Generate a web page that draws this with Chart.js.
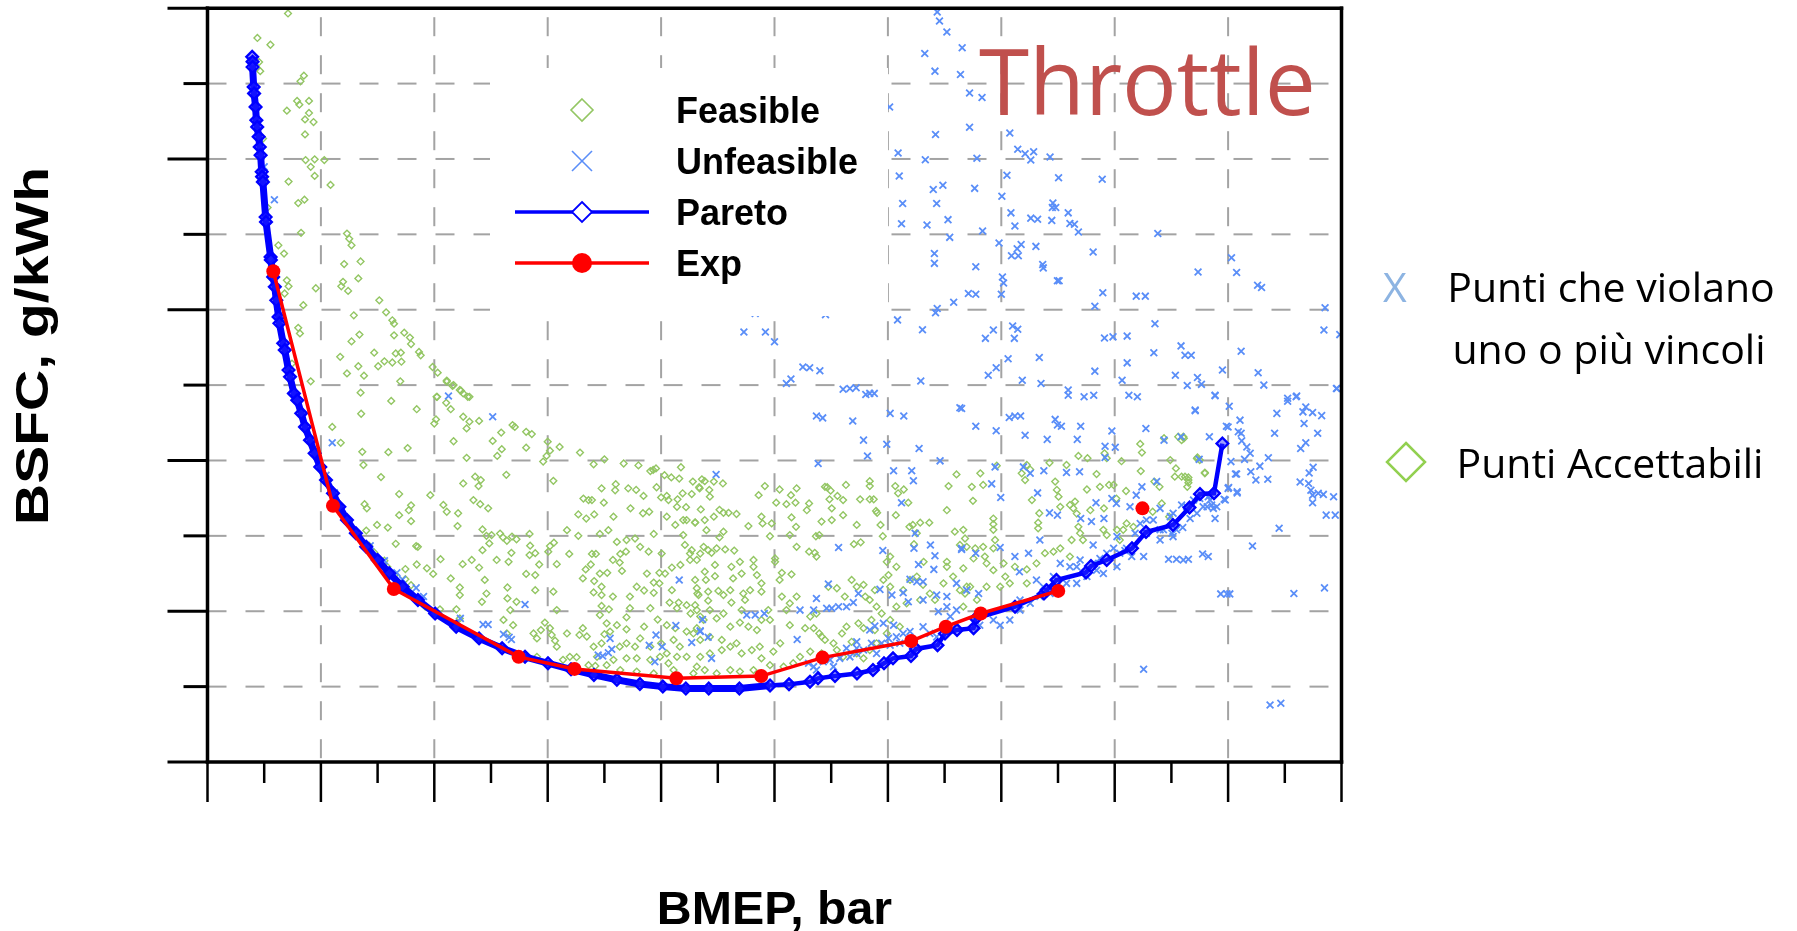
<!DOCTYPE html>
<html>
<head>
<meta charset="utf-8">
<title>Throttle - BSFC vs BMEP</title>
<script src="https://cdn.jsdelivr.net/npm/chart.js@4.4.1/dist/chart.umd.min.js"></script>
<style>
  html, body { margin: 0; padding: 0; background: #fff; }
  #wrap { position: relative; width: 1797px; height: 931px; }
</style>
</head>
<body>
<div id="wrap"><canvas id="chart" width="1797" height="931"></canvas></div>
<script>
// BMEP [bar], BSFC [g/kWh]
const feasiblePoints = [
  [1.42,398.6],[0.88,392.1],[1.11,390.3],[0.91,385.7],[0.93,383.3],[1.64,380.6],[1.70,382.1],[1.40,372.8],[1.58,375.4],[1.79,375.4],
  [1.62,374.4],[1.79,372.2],[1.72,370.5],[1.87,369.8],[1.72,366.5],[0.98,365.4],[1.73,359.7],[1.89,359.9],[2.06,359.7],[1.82,357.9],
  [1.89,355.5],[2.17,353.1],[1.43,354.0],[1.01,354.4],[1.60,348.3],[1.71,349.2],[1.06,347.1],[1.65,340.4],[2.46,340.2],[2.50,338.8],
  [2.54,337.1],[1.25,337.1],[1.35,334.9],[2.41,332.1],[2.70,332.8],[2.66,328.3],[2.39,327.4],[2.36,326.2],[2.48,325.0],[1.91,325.7],
  [1.40,327.8],[1.43,326.2],[1.36,324.3],[1.69,321.2],[3.03,322.5],[3.15,319.3],[2.58,318.5],[3.26,317.2],[3.29,316.3],[3.47,313.9],
  [3.29,313.2],[2.68,313.4],[3.57,312.6],[2.54,311.6],[1.60,315.2],[1.63,313.7],[3.59,310.9],[2.94,308.6],[2.34,307.5],[3.32,308.4],
  [3.41,308.6],[3.73,308.8],[3.76,307.9],[3.26,306.0],[3.12,306.3],[3.42,306.2],[3.01,305.0],[2.66,305.0],[2.46,303.1],[2.76,302.5],
  [3.97,304.8],[4.06,303.3],[3.40,301.0],[4.22,301.2],[4.32,299.8],[4.45,298.7],[4.59,296.9],[4.05,296.9],[2.70,298.0],[1.82,301.0],
  [1.49,305.7],
  [3.24,295.8],[3.69,293.6],[2.71,292.4],[2.20,288.9],[2.35,284.7],[2.73,282.3],[3.19,282.2],[3.53,283.3],[2.75,278.8],[3.06,275.6],
  [3.38,271.1],[2.77,268.4],[2.81,267.3],[3.59,268.1],[3.55,266.8],[3.38,265.5],[3.59,263.9],[2.99,262.9],[3.18,262.2],[2.80,261.4],
  [3.32,257.9],[3.68,257.3],[3.71,257.1],[2.94,255.6],[2.85,257.4],[3.12,253.4],[3.17,251.8],[3.49,251.2],[3.69,252.4],[3.30,249.6],
  [3.49,248.5],[3.59,246.9],
  [4.22,300.9],[4.34,300.0],[4.47,298.5],[4.51,297.8],[4.62,296.9],[4.04,296.9],[4.21,295.3],[4.29,293.6],[4.00,289.8],[4.03,290.9],
  [4.51,291.6],[4.62,290.3],[4.57,288.5],[4.79,290.5],[5.03,285.2],[5.18,287.4],[5.38,289.4],[5.42,288.9],[5.62,287.6],[5.72,287.0],
  [6.00,285.0],[5.62,283.4],[5.19,283.0],[5.11,281.2],[4.57,280.7],[4.34,285.1],[5.98,281.2],[5.92,279.7],[6.04,282.6],[6.21,283.6],
  [6.57,282.1],[6.81,279.0],[7.00,280.3],[7.34,279.2],[7.60,278.7],[7.81,277.2],[7.86,277.5],[7.91,277.9],[8.06,276.1],[8.18,275.5],
  [8.32,275.2],[8.35,278.2],[8.56,274.4],[8.68,272.6],
  [4.51,273.9],[4.72,275.7],[4.82,274.8],[4.78,273.2],[5.27,276.2],[3.93,270.8],[4.69,269.5],[4.81,268.4],[4.16,268.2],[4.22,266.4],
  [4.95,267.3],[4.42,266.0],[4.41,262.6],[4.85,261.7],[4.92,260.0],[5.01,260.2],[5.16,260.6],[5.21,259.6],[5.28,258.7],[5.37,259.8],
  [5.45,259.1],[5.68,260.5],[6.10,274.6],[6.63,269.9],[6.72,269.5],[6.78,269.5],[6.99,268.8],[6.54,265.7],[6.68,264.6],[6.82,265.7],
  [7.16,265.1],[6.95,272.6],[7.20,273.7],[7.19,272.1],[7.42,272.6],[7.56,272.2],[7.69,270.6],[7.92,272.9],[8.00,270.2],[8.10,270.6],
  [8.13,269.5],[8.29,269.7],[8.38,271.3],[8.54,271.1],[8.28,267.7],[8.44,267.6],[7.46,267.3],[7.79,266.4],[7.68,266.0],[8.10,265.1],
  [8.25,262.9],[8.39,264.2],[8.45,264.2],[8.60,263.6],[6.34,261.5],[6.54,260.0],[6.92,260.5],[7.07,261.5],[7.22,258.4],[7.39,258.9],
  [7.54,259.3],[7.63,257.1],[7.78,255.8],[7.87,260.5],[8.01,255.3],[8.39,260.2],[8.42,257.6],[8.51,255.3],[8.63,253.6],
  [4.11,253.8],[3.98,249.9],[3.87,251.4],[4.29,248.7],[4.50,252.5],[4.66,253.6],[4.79,251.6],[5.10,253.6],[4.85,256.2],[4.97,258.0],
  [5.31,253.1],[5.36,255.5],[5.68,254.9],[5.78,255.4],[5.85,252.4],[5.69,257.4],[6.01,255.8],[6.04,257.3],[6.11,258.2],[6.16,252.5],
  [6.38,255.2],[6.78,255.2],[6.85,255.2],[6.67,251.1],[6.76,252.4],[6.92,250.0],[7.05,250.2],[7.15,253.6],[7.28,255.2],[7.38,255.8],
  [7.27,252.9],[7.31,250.7],[7.75,250.0],[7.87,247.6],[7.97,247.4],[8.07,250.0],[8.19,251.6],[8.34,252.3],[8.51,253.6],[6.62,248.7],
  [6.82,248.0],[6.95,246.5],[6.95,244.3],[6.81,245.0],[7.15,243.9],[7.45,243.9],[7.57,246.5],[7.70,245.5],[7.87,244.9],[8.19,245.6],
  [8.63,246.1],[8.66,244.3],[8.45,241.6],[8.31,242.3],[8.63,240.3],[8.69,238.6],[8.52,239.4],[8.28,240.8],[8.15,242.3],[7.94,237.8],
  [7.81,240.8],[7.45,240.8],[7.39,238.4],[7.08,240.5],[6.95,241.4],[6.92,239.0],[7.04,236.8],[7.22,236.3],[7.39,235.2],[7.70,235.9],
  [8.10,236.3],[8.25,235.5],[8.45,234.6],[8.63,235.5],[6.16,240.3],[5.95,237.0],[6.04,235.5],[5.88,235.0],[5.75,234.1],[5.81,232.8],
  [6.07,233.7],[6.13,232.2],[6.16,230.6],[6.34,234.1],[6.56,233.7],[6.62,235.5],[6.69,233.3],[6.81,230.6],[6.95,231.5],[7.00,233.9],
  [7.10,234.6],[7.27,230.6],[7.39,231.5],[7.54,230.6],[7.63,232.8],[7.81,230.6],[8.00,231.5],[8.10,228.8],[8.22,232.4],[8.33,230.6],
  [8.45,227.9],[8.28,227.9],[8.13,226.2],[7.98,227.9],[7.81,227.1],[7.57,227.5],[7.39,227.5],[7.16,227.1],[7.04,225.7],[6.84,225.5],
  [6.72,225.7],[6.87,227.9],[6.51,227.8],[6.39,227.9],[6.27,227.1],[5.81,227.9],[5.22,237.7],[5.28,234.1],[5.39,236.3],[5.34,240.3],
  [4.92,244.7],[5.29,246.3],[5.29,243.4],[5.45,242.5],[4.84,242.5],[4.45,244.3],[4.39,240.5],[4.45,238.1],[4.10,240.5],[3.84,241.2],
  [5.78,245.6],[6.10,245.2],[4.89,248.3],[4.45,246.3],[5.78,249.6],[5.62,249.9],[7.97,250.2],[7.28,224.4],[7.57,224.0],[7.87,223.5],
  [8.22,224.4],[8.57,223.5],
  [8.72,275.0],[8.77,274.5],[8.67,272.9],[8.85,272.2],[8.93,274.4],[9.09,273.9],[8.86,270.4],[9.03,266.9],[9.10,266.1],[9.19,266.1],
  [9.33,265.8],[8.93,265.1],[8.70,267.0],[8.77,264.2],[8.60,263.5],[8.80,261.5],[9.10,261.1],[9.03,259.6],[9.54,262.6],[9.77,265.1],
  [9.79,263.3],[9.83,273.2],[9.72,270.8],[9.95,263.3],[9.92,259.9],[10.09,272.3],[10.03,268.8],[10.29,270.8],[10.39,272.6],[10.21,268.4],
  [10.37,268.8],[10.57,266.8],[10.61,268.6],[10.30,264.9],[10.38,262.4],[10.27,260.2],[10.39,257.1],[10.61,255.8],[10.71,255.5],[10.74,254.5],
  [10.89,273.0],[10.93,272.9],[10.99,272.0],[10.97,269.7],[11.11,270.6],[11.21,269.5],[11.26,273.5],[11.01,267.3],[10.83,263.8],[10.73,259.9],
  [10.79,260.2],[11.01,264.2],[11.21,265.5],[11.40,257.8],[11.52,258.3],[11.45,262.9],[11.51,269.7],[11.68,269.7],[11.75,269.7],[11.68,274.5],
  [11.68,273.2],[11.79,266.6],[11.81,266.1],[11.87,262.9],[11.91,259.9],[12.13,273.2],[12.18,271.3],[12.28,272.3],[12.36,268.8],[12.14,265.5],
  [12.38,262.4],[12.44,262.9],[12.57,263.5],[12.73,263.5],[12.51,260.7],[12.46,257.8],[12.63,253.1],[13.04,266.8],[13.07,273.2],[13.21,276.3],
  [13.18,261.1],[13.04,253.1],[13.27,257.6],
  [8.54,256.2],[8.69,255.3],[8.75,257.1],[8.83,256.2],[8.89,255.5],[8.98,256.7],[9.13,256.4],[9.29,256.1],[9.39,253.1],[9.24,251.8],
  [8.95,252.3],[8.77,250.5],[8.60,248.3],[8.79,248.3],[8.95,249.3],[9.27,248.7],[9.42,250.0],[9.63,251.8],[9.69,249.6],[9.63,253.6],
  [9.57,245.6],[9.77,247.4],[9.77,245.2],[10.01,254.0],[10.01,253.1],[10.09,248.3],[10.13,250.2],[10.30,249.8],[9.22,245.6],[9.01,245.4],
  [8.83,245.2],[8.64,244.7],[8.60,241.6],[8.83,242.8],[9.10,244.3],[9.24,242.3],[9.45,244.7],[9.48,243.0],[9.42,240.3],[9.10,239.4],
  [8.86,240.3],[8.75,237.7],[8.98,238.1],[9.22,235.9],[9.39,237.0],[9.54,235.9],[9.69,235.0],[9.77,237.7],[9.92,237.7],[9.89,240.3],
  [10.13,243.9],[10.27,242.1],[10.39,243.9],[10.21,240.3],[10.27,236.3],[10.54,235.5],[10.69,235.5],[10.79,234.1],[10.83,233.3],[10.89,232.4],
  [10.63,238.6],[10.74,239.4],[10.95,246.5],[11.10,246.1],[11.24,243.9],[11.36,248.3],[11.45,246.5],[11.57,247.0],[11.68,243.0],[11.60,243.9],
  [11.77,245.6],[11.80,241.2],[11.89,239.4],[11.71,237.7],[11.77,235.0],[11.57,235.5],[11.48,236.8],[11.27,235.9],[11.19,234.1],[11.36,231.9],
  [11.04,231.5],[11.10,229.7],[10.83,228.8],[10.63,229.3],[10.45,227.9],[10.33,226.2],[10.16,225.3],[9.92,225.7],[9.77,227.5],[9.63,224.4],
  [9.39,224.0],[9.22,224.4],[8.98,223.5],[8.77,224.4],[8.63,225.3],[8.69,227.9],[8.86,228.8],[9.07,229.7],[9.22,230.6],[9.42,228.8],
  [9.60,229.7],[9.74,230.6],[9.98,229.3],[10.10,231.5],[8.69,232.4],[8.86,233.2],[9.07,232.4],[9.33,231.5],[8.57,234.1],
  [12.04,254.5],[11.98,253.1],[12.15,251.8],[12.01,249.6],[11.92,248.3],[12.04,246.5],[12.27,245.6],[12.39,248.3],[12.51,249.2],[12.62,247.0],
  [12.74,244.7],[12.83,243.0],[13.04,251.8],[13.15,249.2],[13.27,245.6],[13.39,246.5],[12.98,247.4],[12.15,241.2],[12.33,242.1],[12.57,243.0],
  [12.04,237.7],[12.21,235.9],[11.80,231.5],[11.68,229.7],[11.45,228.8],[11.57,227.5],[11.21,227.9],[11.98,234.1],
  [16.45,284.4],[16.48,282.1],[16.87,285.9],[17.12,286.3],[17.22,285.9],[17.46,280.8],[17.59,276.8],[17.08,277.9],[17.06,275.7],[17.18,275.7],
  [17.30,275.5],[17.30,274.1],[16.98,280.1],[16.46,277.2],[16.70,274.4],[16.79,273.0],[16.83,268.6],[16.67,266.4],[16.96,265.1],[15.36,281.2],
  [15.52,280.6],[15.82,281.9],[15.86,280.6],[16.12,279.8],[15.68,276.4],[15.74,273.0],[15.51,272.3],[15.90,273.5],[15.98,273.5],[16.20,271.9],
  [16.03,269.9],[15.81,267.3],[15.57,266.8],[15.30,269.1],[15.21,268.2],[15.27,267.3],[15.33,265.9],[15.36,262.4],[15.39,260.7],[15.24,258.9],
  [15.44,258.9],[15.04,267.7],[15.01,270.4],[14.98,272.2],[14.95,274.4],[15.15,278.8],[14.85,279.4],[14.45,278.8],[14.51,277.6],[14.42,274.8],
  [14.36,276.6],[14.54,269.5],[14.67,266.0],[14.65,263.5],[14.65,262.0],[13.86,264.6],[13.86,263.1],[13.86,261.6],[13.63,276.6],[13.68,273.5],
  [13.48,273.0],[13.50,269.3],[13.92,278.6],[15.80,261.6],[15.86,260.2],[16.04,261.6],[16.15,261.6],[16.21,263.3],[16.33,262.4],[16.09,258.9],
  [13.33,261.6],[13.36,259.3],[13.39,257.1],[13.54,256.7],[13.68,257.1],[13.86,256.7],[13.89,258.9],[13.71,254.5],[13.51,254.0],[13.74,252.7],
  [13.86,250.9],[14.04,252.7],[14.07,249.2],[14.24,251.8],[14.45,251.1],[14.62,252.7],[14.77,255.4],[14.92,255.8],[15.04,256.7],[15.21,254.5],
  [14.45,247.4],[14.15,247.4],[13.98,246.5],[13.74,246.5],[13.45,246.5],[13.33,251.4],[13.36,244.7],[13.57,243.0],[13.33,241.2],
  [17.18,285.4],[17.21,286.3],[17.45,280.5],[17.50,280.1],[17.59,276.6],[17.24,275.7],[17.30,274.8],[17.28,273.0]
];

const unfeasiblePoints = [
  [1.18,349.2],[1.00,357.9],[4.25,297.1],
  [2.20,284.7],[2.09,276.1],[2.24,271.4],[2.87,257.4],[3.12,253.4],[3.34,250.2],[3.44,248.4],[3.68,246.2],
  [5.03,291.6],[3.81,243.9],[4.46,238.1],[4.86,236.5],[4.95,236.5],[5.22,233.9],[5.32,233.1],[5.36,232.5],[5.60,241.8],
  [7.10,232.8],[7.13,229.9],[7.07,229.0],[6.89,228.4],[6.97,228.1],[7.79,231.0],[7.89,226.6],[7.91,233.7],[8.02,230.6],[8.26,236.2],
  [8.32,248.3],[8.54,231.7],[8.69,234.6],
  [10.74,291.8],[10.85,291.3],[11.38,290.5],[12.04,292.5],[12.28,291.8],[13.27,294.0],[11.57,285.4],[11.98,284.3],[11.64,281.2],[12.55,283.2],
  [10.77,279.2],[12.10,277.3],[12.42,277.3],[12.45,274.6],[12.92,279.9],[8.97,276.3],[12.24,268.8],[11.68,297.8],
  [11.13,256.9],[11.91,256.1],[12.48,260.7],[12.46,256.7],[12.75,257.6],[12.83,254.7],[13.30,256.4],[12.54,252.4],[12.81,251.1],[10.95,247.2],
  [11.86,245.8],[12.07,244.3],[12.39,248.5],[12.51,247.8],[12.62,247.8],[12.27,244.9],[12.36,242.5],[12.62,243.0],[12.86,244.3],[13.04,243.9],
  [13.21,247.4],[13.39,245.6],[12.89,239.9],[13.04,241.2],[13.21,240.3],[13.10,238.6],
  [10.74,243.4],[10.92,240.8],[11.01,240.8],[11.13,241.2],[11.27,241.2],[11.39,242.3],[11.48,244.7],[10.45,240.3],[10.69,240.3],[9.51,239.0],
  [9.66,239.0],[9.82,239.4],[8.73,237.8],[8.83,233.1],[8.69,234.8],[8.89,227.5],[10.40,232.5],[11.68,235.0],[11.77,236.1],[11.92,236.8],
  [12.10,236.3],[11.45,231.9],[11.45,230.2],
  [10.60,226.2],[10.69,225.3],[10.86,226.6],[10.98,227.1],[11.15,227.5],[11.33,227.9],[11.45,228.8],[11.57,229.7],[11.71,231.5],[11.89,231.5],
  [12.01,232.8],[12.15,233.2],[12.27,234.1],[12.39,234.6],[12.62,235.9],[12.74,234.1],[12.86,233.2],[11.27,230.2],[11.80,228.8],[12.21,231.5],
  [10.74,224.4],[11.04,225.3],[12.04,231.0],
  [12.87,399.0],[12.91,396.6],[13.04,393.7],[13.31,389.5],[12.65,388.0],[12.83,383.3],[13.28,382.4],[13.44,377.5],[13.66,376.3],[12.03,373.8],
  [13.44,368.4],[12.84,366.5],[14.15,366.9],[12.18,361.6],[12.66,359.8],[13.57,360.2],[14.29,362.6],[14.42,361.4],[14.57,361.9],[14.52,359.7],
  [14.86,360.5],[14.10,355.7],[15.01,355.0],[15.78,354.6],[12.20,355.5],[12.80,351.9],[12.97,353.0],[13.53,352.2],[14.01,350.1],[12.26,348.2],
  [12.86,348.2],[14.17,345.7],[14.91,348.3],[14.90,347.1],[14.96,347.1],[15.18,345.7],[14.52,344.3],[14.64,344.0],[14.89,343.7],[15.21,342.9],
  [15.29,342.7],[14.24,342.2],[12.24,342.8],[12.69,342.5],[13.06,343.9],[15.36,340.6],[13.67,340.9],[13.09,339.2],[16.76,340.2],[13.96,337.7],
  [14.35,337.3],[14.61,336.8],[14.28,336.2],[14.18,334.3],[14.30,334.3],[15.62,335.3],[12.82,334.9],[12.82,332.3],[13.55,331.4],[14.73,332.0],
  [14.74,331.1],[14.02,328.7],[14.04,327.1],[14.99,327.7],[15.02,327.7],[18.06,333.8],[17.47,330.0],[18.15,329.9],[18.52,326.5],[18.59,325.9],
  [13.42,324.3],[13.55,324.1],[14.00,324.1],[15.79,324.5],[16.38,323.6],[16.54,323.6],[13.16,322.0],[12.87,320.3],[12.84,319.2],[15.65,320.9],
  [19.71,320.5],[12.17,317.3],[12.61,314.7],[16.71,316.3],[19.69,314.6],[19.97,313.4],[14.20,315.7],[14.29,314.8],[13.86,314.6],[13.72,312.4],
  [14.23,312.4],[15.82,312.5],[15.97,312.8],[16.22,313.0],[16.69,308.6],[17.17,310.4],[17.24,307.9],[17.35,307.9],[18.23,309.0],[14.12,307.0],
  [14.67,307.3],[13.91,304.6],[13.77,302.6],[14.37,301.3],[14.70,300.4],[15.18,298.7],[15.18,297.3],[15.46,296.9],[15.65,303.7],[15.63,297.3],
  [16.13,301.3],[16.22,305.9],[16.25,297.3],[16.40,296.9],[17.07,302.6],[17.46,302.0],[17.53,300.2],[17.28,299.9],[17.77,297.3],[17.90,304.0],
  [18.53,303.3],[18.63,300.0],[19.05,296.5],[19.21,297.1],[19.91,299.1],[12.58,301.1],[9.46,314.1],[9.84,314.1],[9.66,319.0],[10.90,318.7],
  [10.00,311.5],[10.21,300.4],[10.29,301.6],[10.50,304.8],[10.62,304.6],[10.80,303.8],[11.21,298.9],[11.33,299.1],[11.44,299.3],[11.61,297.5],
  [11.76,297.8],
  [13.30,293.8],[13.55,289.1],[13.91,287.9],[14.14,291.4],[14.24,291.8],[14.34,291.8],[14.42,286.7],[14.81,285.6],[14.95,290.9],[14.99,289.4],
  [15.06,289.1],[15.40,289.1],[15.34,285.6],[15.95,287.8],[16.55,288.5],[15.83,283.8],[16.01,283.5],[15.83,280.8],[16.87,285.4],[17.17,286.3],
  [17.67,286.3],[17.42,293.4],[17.97,289.1],[18.18,287.6],[18.15,276.4],[18.00,272.6],[17.95,269.5],[18.16,271.4],[17.49,280.3],[14.39,278.3],
  [14.51,276.6],[15.15,276.8],[15.38,277.0],[14.75,277.3],[13.89,278.3],[13.83,273.8],[13.99,270.2],[14.64,271.4],[14.85,266.1],[14.99,265.5],
  [15.40,264.6],[15.59,263.8],[15.67,268.8],[15.81,264.6],[15.95,269.9],[16.48,273.0],[16.74,274.4],[16.38,270.8],[16.27,267.7],[16.03,268.6],
  [16.45,263.3],[16.68,264.2],[17.03,266.0],[17.33,264.6],[17.45,266.0],[17.63,267.7],[17.74,267.3],[17.68,269.5],[17.18,268.2],[16.80,261.6],
  [17.01,260.7],[16.80,258.9],[16.51,254.5],[16.95,253.8],[17.09,253.8],[17.30,253.8],[17.55,255.2],[17.65,254.5],[14.68,258.9],[13.98,256.9],
  [14.24,254.5],[14.48,255.4],[14.32,250.5],[14.62,248.3],[13.60,244.7],[13.30,256.7],[13.55,255.4],[15.62,257.6],[16.04,259.8],[16.36,260.7],
  [16.30,254.5],[16.18,256.1],
  [15.04,252.7],[15.21,251.8],[15.39,253.6],[15.62,252.7],[15.74,254.0],[15.86,255.4],[15.98,256.7],[16.09,255.4],[16.21,256.7],[15.51,249.2],
  [15.33,247.4],[15.15,247.4],[14.98,246.5],[14.86,244.7],[14.68,243.9],[14.51,242.1],[14.33,240.3],[14.15,237.7],[13.98,236.3],[15.33,251.8],
  [14.74,246.5],[14.92,249.2],[14.33,243.0],[13.86,237.7],[13.62,236.3],[15.68,250.9],
  [16.56,264.2],[16.80,267.3],[16.98,265.1],[17.27,267.7],[17.39,269.5],[17.50,269.9],[17.65,270.4],[17.71,268.2],[17.80,267.7],
  [15.80,250.0],[16.04,251.8],[16.56,260.7],[16.86,261.6],[17.09,261.6],[17.03,259.8],[17.56,267.7],[16.51,224.6],
  [18.86,292.5],[19.05,295.7],[19.20,296.9],[19.37,294.2],[19.32,292.9],[19.49,292.7],[19.65,291.9],[19.34,289.8],[19.58,287.2],[18.82,287.2],
  [19.37,284.7],[19.28,283.2],[18.71,280.7],[18.56,278.5],[18.70,275.0],[18.49,274.8],[18.40,277.0],[18.29,280.3],[18.24,285.2],[18.33,283.6],
  [18.39,281.9],[18.23,287.2],[18.21,290.7],[19.50,278.2],[19.43,276.7],[19.42,273.9],[19.46,272.1],[19.49,270.8],[19.49,268.8],[19.59,271.3],
  [19.68,271.0],[19.86,270.4],[19.27,274.3],[19.73,265.5],[19.89,265.5],[18.90,262.0],[18.43,257.3],[19.16,244.7],[19.70,246.2],[18.74,215.1],
  [18.93,215.6],[19.92,299.1],[18.02,294.4],[18.00,288.9],[18.05,279.7],[18.13,276.4],[18.01,272.8],[18.16,271.7],[17.93,269.7],[17.77,264.6],
  [17.20,262.2],[17.21,253.6],[17.87,244.6],[17.98,244.6],[18.03,244.6],[17.42,293.2],[17.77,297.2]
];

const paretoPoints = [
  [0.788,387.1],[0.795,385.8],[0.795,384.4],[0.815,379.1],[0.822,377.4],[0.848,373.8],[0.862,370.3],[0.877,368.5],[0.903,365.9],[0.922,363.2],
  [0.937,361.0],[0.956,356.6],[0.963,355.3],[0.977,353.9],[1.025,344.6],[1.032,343.3],[1.113,334.0],[1.118,333.2],[1.159,328.7],[1.187,326.1],
  [1.213,322.5],[1.254,318.1],[1.268,316.4],[1.335,311.1],[1.362,309.3],[1.429,304.0],[1.455,302.2],[1.524,297.8],[1.584,296.0],[1.653,292.5],
  [1.720,288.9],[1.808,285.4],[1.889,281.9],[1.989,278.3],[2.090,274.8],[2.213,271.3],[2.326,267.7],[2.460,264.2],[2.617,260.7],[2.799,257.1],
  [3.002,253.6],[3.205,250.1],[3.441,246.5],[3.711,243.0],[4.014,239.4],[4.386,235.9],[4.790,232.8],[5.196,230.2],[5.600,227.9],[6.005,226.2],
  [6.411,224.6],[6.815,223.1],[7.220,221.8],[7.626,220.7],[8.030,220.0],[8.436,219.5],[8.840,219.5],[9.381,219.5],[9.921,220.3],[10.256,220.6],
  [10.626,221.3],[10.767,222.2],[11.067,222.8],[11.455,223.5],[11.737,224.4],[11.931,226.2],[12.090,227.5],[12.407,228.1],[12.496,230.0],[12.875,231.0],
  [13.007,234.1],[13.219,235.0],[13.511,235.5],[13.549,238.1],[14.242,241.2],[14.753,244.7],[14.801,245.6],[14.974,248.3],[15.494,250.3],[15.582,252.0],
  [15.859,253.6],[16.305,256.7],[16.552,261.0],[17.028,262.9],[17.319,267.5],[17.504,271.1],[17.751,271.3],[17.899,284.5]
];

// null leaves the last experimental point unconnected
const expPoints = [
  [1.161,330.2],[2.213,268.0],[3.286,245.9],[5.487,227.9],[6.473,224.7],[8.268,222.2],[9.765,222.8],[10.847,227.7],
  [12.411,232.1],[13.021,235.9],[13.637,239.4],[15.004,245.4],null,[16.489,267.3]
];

const bmepTicks = [0,1,2,3,4,5,6,7,8,9,10,11,12,13,14,15,16,17,18,19,20];
const bsfcTicks = [200,220,240,260,280,300,320,340,360,380,400];

const legendItems = ['Feasible', 'Unfeasible', 'Pareto', 'Exp'];
const noteLines = ['Punti che violano', 'uno o più vincoli', 'Punti Accettabili'];

const GREEN = '#93c663';
const LIGHT_BLUE = '#5a8ef8';
const BLUE = '#0000ff';
const RED = '#ff0000';

const toXY = p => p ? { x: p[0], y: p[1] } : { x: null, y: null };

function line(ctx, x1, y1, x2, y2) {
  ctx.beginPath();
  ctx.moveTo(x1, y1);
  ctx.lineTo(x2, y2);
  ctx.stroke();
}

function diamond(ctx, cx, cy, r) {
  ctx.beginPath();
  ctx.moveTo(cx, cy - r);
  ctx.lineTo(cx + r, cy);
  ctx.lineTo(cx, cy + r);
  ctx.lineTo(cx - r, cy);
  ctx.closePath();
}

function text(ctx, str, x, y, font, color, align, stretch) {
  ctx.save();
  ctx.font = font;
  ctx.fillStyle = color;
  ctx.textAlign = align || 'left';
  ctx.textBaseline = 'alphabetic';
  ctx.translate(x, y);
  if (stretch) ctx.scale(stretch, 1);
  ctx.fillText(str, 0, 0);
  ctx.restore();
}

const framePlugin = {
  id: 'frame',
  beforeDatasetsDraw(chart) {
    const { ctx, chartArea: a, scales: { x, y } } = chart;
    ctx.save();
    ctx.strokeStyle = '#a3a3a3';
    ctx.lineWidth = 2;
    ctx.setLineDash([19, 19]);
    bmepTicks.filter(v => v % 2 === 0 && v > 0 && v < 20).forEach(v => {
      const px = x.getPixelForValue(v);
      ctx.lineDashOffset = 29;
      line(ctx, px, a.top, px, a.bottom);
    });
    bsfcTicks.filter(v => v > 200 && v < 400).forEach(v => {
      const py = y.getPixelForValue(v);
      ctx.lineDashOffset = 0;
      line(ctx, a.left, py, a.right, py);
    });
    ctx.restore();
  },
  afterDatasetsDraw(chart) {
    const { ctx, chartArea: a, scales: { x, y } } = chart;
    ctx.save();

    // in-plot legend on a white box
    ctx.fillStyle = '#ffffff';
    ctx.fillRect(490, 68, 398, 248);
    const rows = [110, 161, 212, 263];
    const mx = 582;
    ctx.lineWidth = 1.6;
    ctx.strokeStyle = GREEN;
    diamond(ctx, mx, rows[0], 11);
    ctx.stroke();
    ctx.strokeStyle = LIGHT_BLUE;
    line(ctx, mx - 10, rows[1] - 10, mx + 10, rows[1] + 10);
    line(ctx, mx - 10, rows[1] + 10, mx + 10, rows[1] - 10);
    ctx.lineWidth = 3.5;
    ctx.strokeStyle = BLUE;
    line(ctx, 515, rows[2], 649, rows[2]);
    ctx.fillStyle = '#ffffff';
    diamond(ctx, mx, rows[2], 10);
    ctx.fill();
    ctx.lineWidth = 1.8;
    ctx.stroke();
    ctx.lineWidth = 3.5;
    ctx.strokeStyle = RED;
    line(ctx, 515, rows[3], 649, rows[3]);
    ctx.fillStyle = RED;
    ctx.beginPath();
    ctx.arc(mx, rows[3], 10, 0, Math.PI * 2);
    ctx.fill();
    legendItems.forEach((t, i) => text(ctx, t, 676, rows[i] + 13, 'bold 36px "Liberation Sans", Arial', '#000'));

    text(ctx, 'Throttle', 979, 115, '91px "Open Sans"', '#c0504d');

    // axes, border and ticks
    ctx.strokeStyle = '#000';
    ctx.lineWidth = 3.5;
    ctx.lineCap = 'square';
    line(ctx, a.left, a.top, a.left, a.bottom);
    line(ctx, a.right, a.top, a.right, a.bottom);
    line(ctx, a.left, a.top, a.right, a.top);
    line(ctx, a.left, a.bottom, a.right, a.bottom);
    ctx.lineCap = 'butt';
    ctx.lineWidth = 3;
    bsfcTicks.forEach(v => {
      const py = y.getPixelForValue(v);
      const len = (v - 200) % 40 === 0 ? 40 : 24;
      line(ctx, a.left - len, py, a.left, py);
    });
    ctx.lineWidth = 2.5;
    bmepTicks.forEach(v => {
      const px = x.getPixelForValue(v);
      const len = v % 2 === 0 ? 40 : 21;
      line(ctx, px, a.bottom, px, a.bottom + len);
    });
    ctx.restore();
  },
  afterDraw(chart) {
    const { ctx, chartArea: a } = chart;
    const bold = 'bold 46px "Liberation Sans", Arial';
    text(ctx, 'BMEP, bar', (a.left + a.right) / 2, 924, bold, '#000', 'center', 1.05);

    ctx.save();
    ctx.translate(48, 346);
    ctx.rotate(-Math.PI / 2);
    text(ctx, 'BSFC, g/kWh', 0, 0, bold, '#000', 'center', 1.24);
    ctx.restore();

    // notes to the right of the plot
    const note = '41px "Open Sans"';
    text(ctx, 'X', 1383, 302, note, '#8db4e2');
    text(ctx, noteLines[0], 1611, 302, note, '#000', 'center');
    text(ctx, noteLines[1], 1609, 364, note, '#000', 'center');
    text(ctx, noteLines[2], 1610, 478, note, '#000', 'center');
    ctx.save();
    ctx.strokeStyle = '#92d050';
    ctx.lineWidth = 2.5;
    diamond(ctx, 1406, 462, 19);
    ctx.stroke();
    ctx.restore();
  }
};

new Chart(document.getElementById('chart'), {
  type: 'scatter',
  data: {
    datasets: [
      {
        label: 'Feasible',
        data: feasiblePoints.map(toXY),
        showLine: false,
        pointStyle: 'rectRot',
        pointRadius: 3.4,
        pointBorderWidth: 1.4,
        pointBorderColor: GREEN,
        pointBackgroundColor: 'rgba(0,0,0,0)',
        order: 4
      },
      {
        label: 'Unfeasible',
        data: unfeasiblePoints.map(toXY),
        showLine: false,
        pointStyle: 'crossRot',
        pointRadius: 4.8,
        pointBorderWidth: 1.8,
        pointBorderColor: LIGHT_BLUE,
        order: 3
      },
      {
        label: 'Pareto',
        data: paretoPoints.map(toXY),
        showLine: true,
        borderColor: BLUE,
        borderWidth: 4.5,
        // the marker crowd makes the left branch read as a thicker band
        segment: { borderWidth: c => (c.p0.parsed.x < 9.5 ? 7 : 4.5) },
        pointStyle: 'rectRot',
        pointRadius: 5.8,
        pointBorderWidth: 2.4,
        pointBorderColor: BLUE,
        pointBackgroundColor: 'rgba(40,40,255,0.45)',
        order: 2
      },
      {
        label: 'Exp',
        data: expPoints.map(toXY),
        showLine: true,
        spanGaps: false,
        borderColor: RED,
        borderWidth: 3.5,
        pointStyle: 'circle',
        pointRadius: 7,
        pointBorderWidth: 0,
        pointBackgroundColor: RED,
        order: 1
      }
    ]
  },
  options: {
    responsive: false,
    devicePixelRatio: 1,
    animation: false,
    events: [],
    layout: { padding: { left: 207.5, right: 455.5, top: 8, bottom: 169 } },
    scales: {
      x: { type: 'linear', min: 0, max: 20, display: false },
      y: { type: 'linear', min: 200, max: 400, display: false }
    },
    plugins: {
      legend: { display: false },
      tooltip: { enabled: false }
    }
  },
  plugins: [framePlugin]
});
</script>
</body>
</html>
